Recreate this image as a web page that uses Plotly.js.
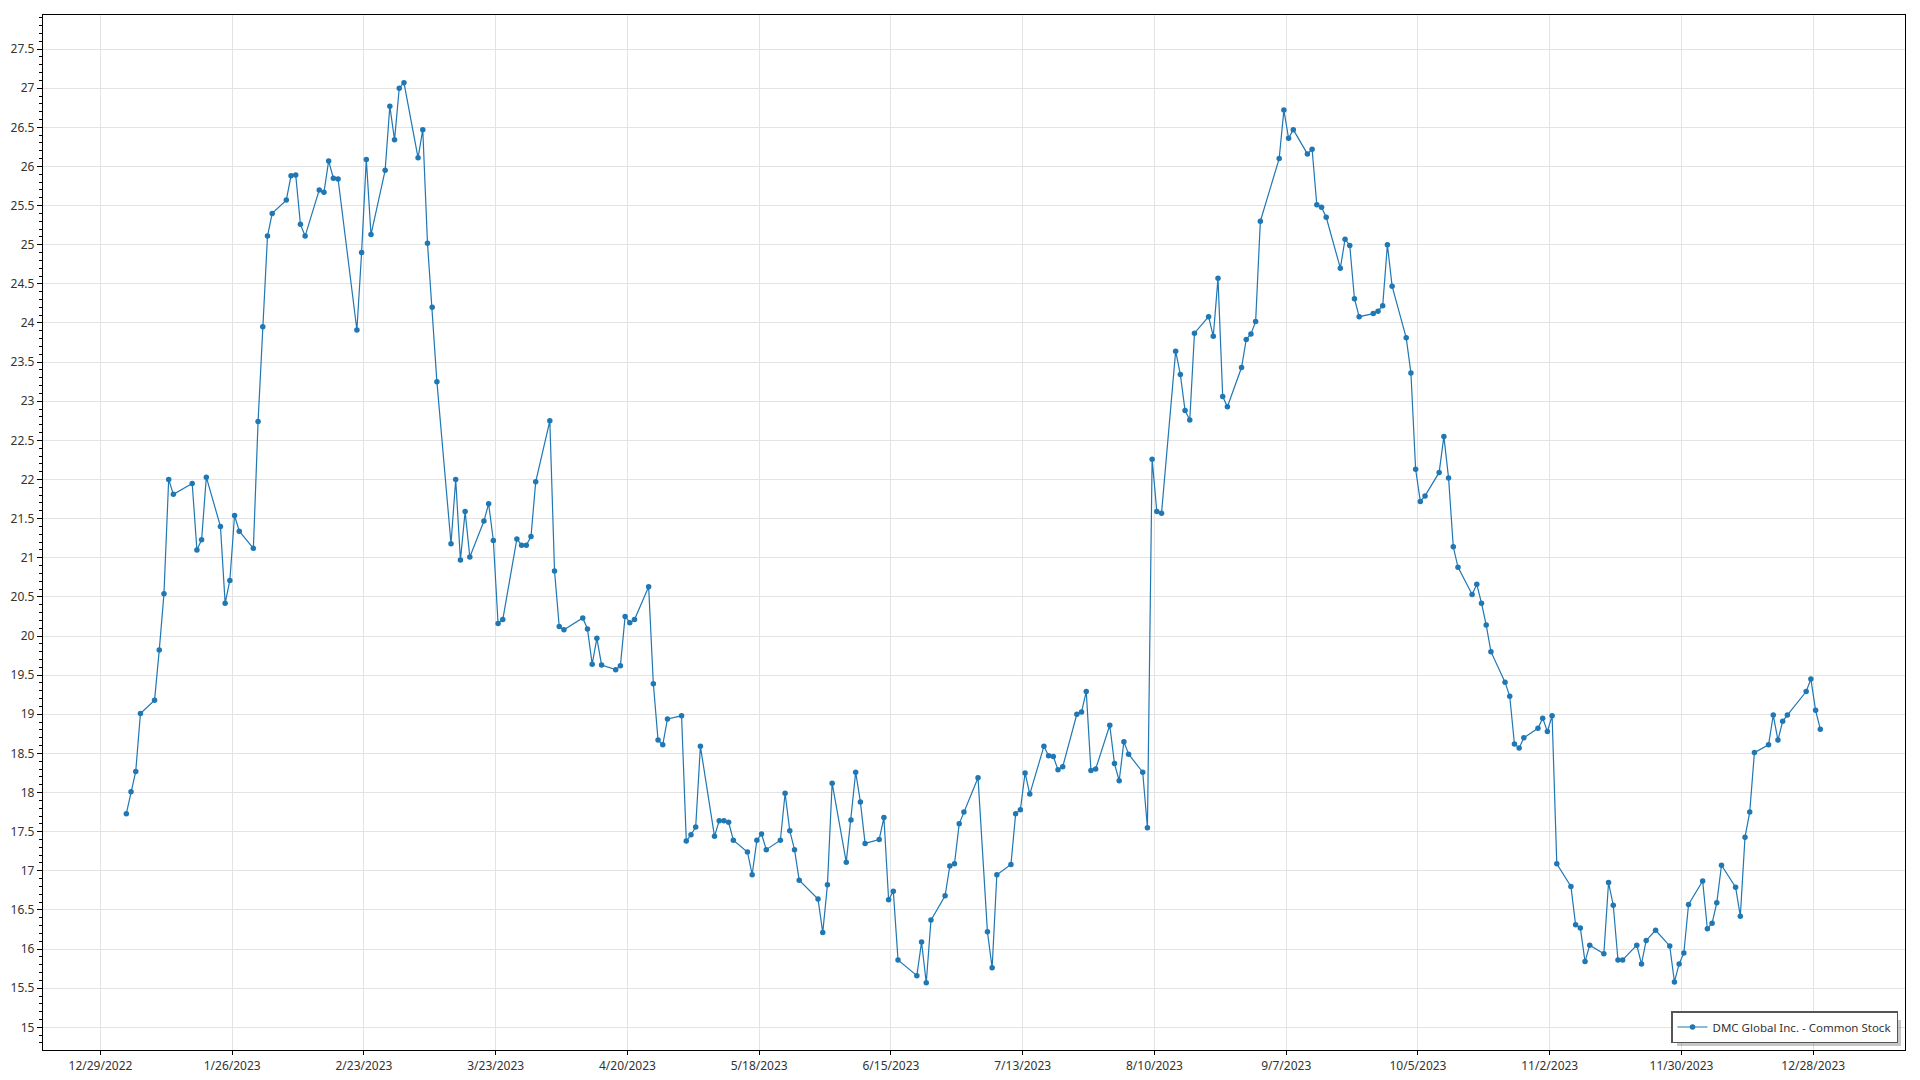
<!DOCTYPE html>
<html>
<head>
<meta charset="utf-8">
<script src="https://cdn.plot.ly/plotly-3.0.1.min.js"></script>
<style>
  html, body { margin: 0; padding: 0; background: #ffffff; }
  #chart { width: 1920px; height: 1080px; }
</style>
</head>
<body>
<div id="chart"></div>
<script>
const seriesName = "DMC Global Inc. - Common Stock";

const dates = [
  "2023-01-03","2023-01-04","2023-01-05","2023-01-06","2023-01-09","2023-01-10","2023-01-11","2023-01-12","2023-01-13",
  "2023-01-17","2023-01-18","2023-01-19","2023-01-20","2023-01-23","2023-01-24","2023-01-25","2023-01-26","2023-01-27",
  "2023-01-30","2023-01-31","2023-02-01","2023-02-02","2023-02-03","2023-02-06","2023-02-07","2023-02-08","2023-02-09",
  "2023-02-10","2023-02-13","2023-02-14","2023-02-15","2023-02-16","2023-02-17","2023-02-21","2023-02-22","2023-02-23",
  "2023-02-24","2023-02-27","2023-02-28","2023-03-01","2023-03-02","2023-03-03","2023-03-06","2023-03-07","2023-03-08",
  "2023-03-09","2023-03-10","2023-03-13","2023-03-14","2023-03-15","2023-03-16","2023-03-17","2023-03-20","2023-03-21",
  "2023-03-22","2023-03-23","2023-03-24","2023-03-27","2023-03-28","2023-03-29","2023-03-30","2023-03-31","2023-04-03",
  "2023-04-04","2023-04-05","2023-04-06","2023-04-10","2023-04-11","2023-04-12","2023-04-13","2023-04-14","2023-04-17",
  "2023-04-18","2023-04-19","2023-04-20","2023-04-21","2023-04-24","2023-04-25","2023-04-26","2023-04-27","2023-04-28",
  "2023-05-01","2023-05-02","2023-05-03","2023-05-04","2023-05-05","2023-05-08","2023-05-09","2023-05-10","2023-05-11",
  "2023-05-12","2023-05-15","2023-05-16","2023-05-17","2023-05-18","2023-05-19","2023-05-22","2023-05-23","2023-05-24",
  "2023-05-25","2023-05-26","2023-05-30","2023-05-31","2023-06-01","2023-06-02","2023-06-05","2023-06-06","2023-06-07",
  "2023-06-08","2023-06-09","2023-06-12","2023-06-13","2023-06-14","2023-06-15","2023-06-16","2023-06-20","2023-06-21",
  "2023-06-22","2023-06-23","2023-06-26","2023-06-27","2023-06-28","2023-06-29","2023-06-30","2023-07-03","2023-07-05",
  "2023-07-06","2023-07-07","2023-07-10","2023-07-11","2023-07-12","2023-07-13","2023-07-14","2023-07-17","2023-07-18",
  "2023-07-19","2023-07-20","2023-07-21","2023-07-24","2023-07-25","2023-07-26","2023-07-27","2023-07-28","2023-07-31",
  "2023-08-01","2023-08-02","2023-08-03","2023-08-04","2023-08-07","2023-08-08","2023-08-09","2023-08-10","2023-08-11",
  "2023-08-14","2023-08-15","2023-08-16","2023-08-17","2023-08-18","2023-08-21","2023-08-22","2023-08-23","2023-08-24",
  "2023-08-25","2023-08-28","2023-08-29","2023-08-30","2023-08-31","2023-09-01","2023-09-05","2023-09-06","2023-09-07",
  "2023-09-08","2023-09-11","2023-09-12","2023-09-13","2023-09-14","2023-09-15","2023-09-18","2023-09-19","2023-09-20",
  "2023-09-21","2023-09-22","2023-09-25","2023-09-26","2023-09-27","2023-09-28","2023-09-29","2023-10-02","2023-10-03",
  "2023-10-04","2023-10-05","2023-10-06","2023-10-09","2023-10-10","2023-10-11","2023-10-12","2023-10-13","2023-10-16",
  "2023-10-17","2023-10-18","2023-10-19","2023-10-20","2023-10-23","2023-10-24","2023-10-25","2023-10-26","2023-10-27",
  "2023-10-30","2023-10-31","2023-11-01","2023-11-02","2023-11-03","2023-11-06","2023-11-07","2023-11-08","2023-11-09",
  "2023-11-10","2023-11-13","2023-11-14","2023-11-15","2023-11-16","2023-11-17","2023-11-20","2023-11-21","2023-11-22",
  "2023-11-24","2023-11-27","2023-11-28","2023-11-29","2023-11-30","2023-12-01","2023-12-04","2023-12-05","2023-12-06",
  "2023-12-07","2023-12-08","2023-12-11","2023-12-12","2023-12-13","2023-12-14","2023-12-15","2023-12-18","2023-12-19",
  "2023-12-20","2023-12-21","2023-12-22","2023-12-26","2023-12-27","2023-12-28","2023-12-29"
];

const prices = [
  17.73,18.01,18.27,19.01,19.18,19.82,20.54,22.00,21.81,
  21.95,21.10,21.23,22.03,21.40,20.42,20.71,21.54,21.34,
  21.12,22.74,23.95,25.11,25.40,25.57,25.88,25.89,25.26,
  25.11,25.70,25.67,26.07,25.85,25.84,23.91,24.90,26.09,
  25.13,25.95,26.77,26.34,27.00,27.07,26.11,26.47,25.02,
  24.20,23.25,21.18,22.00,20.97,21.59,21.01,21.47,21.69,
  21.22,20.16,20.21,21.24,21.16,21.16,21.27,21.97,22.75,
  20.83,20.12,20.08,20.23,20.09,19.64,19.97,19.63,19.57,
  19.62,20.25,20.17,20.21,20.63,19.39,18.67,18.61,18.94,
  18.98,17.38,17.46,17.56,18.59,17.44,17.64,17.64,17.62,
  17.39,17.24,16.95,17.39,17.47,17.27,17.39,17.99,17.51,
  17.27,16.88,16.64,16.21,16.82,18.12,17.11,17.65,18.26,
  17.88,17.35,17.40,17.68,16.63,16.74,15.86,15.66,16.09,
  15.57,16.37,16.68,17.06,17.09,17.60,17.75,18.19,16.22,
  15.76,16.95,17.08,17.73,17.78,18.25,17.98,18.59,18.47,
  18.46,18.29,18.33,19.00,19.03,19.29,18.28,18.30,18.86,
  18.37,18.15,18.65,18.49,18.26,17.55,22.26,21.59,21.57,
  23.64,23.34,22.88,22.76,23.87,24.08,23.83,24.57,23.06,
  22.93,23.43,23.79,23.86,24.02,25.30,26.10,26.72,26.36,
  26.47,26.16,26.22,25.51,25.48,25.35,24.70,25.07,24.99,
  24.31,24.08,24.12,24.15,24.22,25.00,24.47,23.81,23.36,
  22.13,21.72,21.79,22.09,22.55,22.02,21.14,20.88,20.53,
  20.66,20.42,20.14,19.80,19.41,19.23,18.62,18.57,18.70,
  18.82,18.95,18.78,18.98,17.09,16.80,16.31,16.27,15.84,
  16.05,15.94,16.85,16.56,15.86,15.86,16.05,15.81,16.11,
  16.24,16.04,15.58,15.81,15.95,16.57,16.87,16.26,16.33,
  16.59,17.07,16.79,16.42,17.43,17.75,18.51,18.61,18.99,
  18.67,18.91,18.99,19.29,19.45,19.05,18.81
];

const xTickDates = ["2022-12-29","2023-01-26","2023-02-23","2023-03-23","2023-04-20","2023-05-18","2023-06-15",
                    "2023-07-13","2023-08-10","2023-09-07","2023-10-05","2023-11-02","2023-11-30","2023-12-28"];
const xTickLabels = ["12/29/2022","1/26/2023","2/23/2023","3/23/2023","4/20/2023","5/18/2023","6/15/2023",
                     "7/13/2023","8/10/2023","9/7/2023","10/5/2023","11/2/2023","11/30/2023","12/28/2023"];

const fontFamily = "'Noto Sans', 'Open Sans', sans-serif";
const textColor = "#333333";
const gridColor = "#e3e3e3";

const trace = {
  type: "scatter",
  mode: "lines+markers",
  name: seriesName,
  x: dates.map(d => d + " 12:00"),
  y: prices,
  line: { color: "#1f77b4", width: 1.2 },
  marker: { color: "#1f77b4", size: 5.5 },
  showlegend: true
};

// plot area in pixels, used only to place the legend shadow in paper units
const plotL = 42.5, plotR = 1905, plotT = 15, plotB = 1050;
const px2x = p => (p - plotL) / (plotR - plotL);
const px2y = p => (plotB - p) / (plotB - plotT);

const layout = {
  width: 1920,
  height: 1080,
  paper_bgcolor: "#ffffff",
  plot_bgcolor: "#ffffff",
  margin: { l: 42.5, r: 15, t: 15, b: 30, autoexpand: false },
  font: { family: fontFamily, size: 12, color: textColor },
  showlegend: true,
  legend: {
    x: px2x(1898), y: px2y(1043), xanchor: "right", yanchor: "bottom",
    bgcolor: "#ffffff", bordercolor: "#555555", borderwidth: 1.5,
    font: { family: fontFamily, size: 11.5, color: textColor },
    itemwidth: 30
  },
  shapes: [{
    type: "rect", xref: "paper", yref: "paper", layer: "above",
    x0: px2x(1677), x1: px2x(1901), y0: px2y(1046), y1: px2y(1020),
    fillcolor: "rgba(0,0,0,0.22)", line: { width: 0 }
  }],
  xaxis: {
    type: "date",
    range: ["2022-12-16 19:00", "2024-01-16 12:00"],
    tickmode: "array",
    tickvals: xTickDates,
    ticktext: xTickLabels,
    showgrid: true, gridcolor: gridColor, gridwidth: 1,
    zeroline: false,
    showline: true, linecolor: "#000000", linewidth: 1.2, mirror: true,
    ticks: "outside", ticklen: 4, tickcolor: "#000000", tickwidth: 1,
    tickfont: { family: fontFamily, size: 12, color: textColor }
  },
  yaxis: {
    range: [14.71, 27.935],
    tick0: 0, dtick: 0.5,
    showgrid: true, gridcolor: gridColor, gridwidth: 1,
    zeroline: false,
    showline: true, linecolor: "#000000", linewidth: 1.2, mirror: true,
    ticks: "outside", ticklen: 5, tickcolor: "#000000", tickwidth: 1,
    minor: { dtick: 0.1, ticks: "outside", ticklen: 3, tickcolor: "#000000", tickwidth: 1, showgrid: false },
    tickfont: { family: fontFamily, size: 12, color: textColor }
  }
};

Plotly.newPlot("chart", [trace], layout, { displayModeBar: false, staticPlot: true });
</script>
</body>
</html>
